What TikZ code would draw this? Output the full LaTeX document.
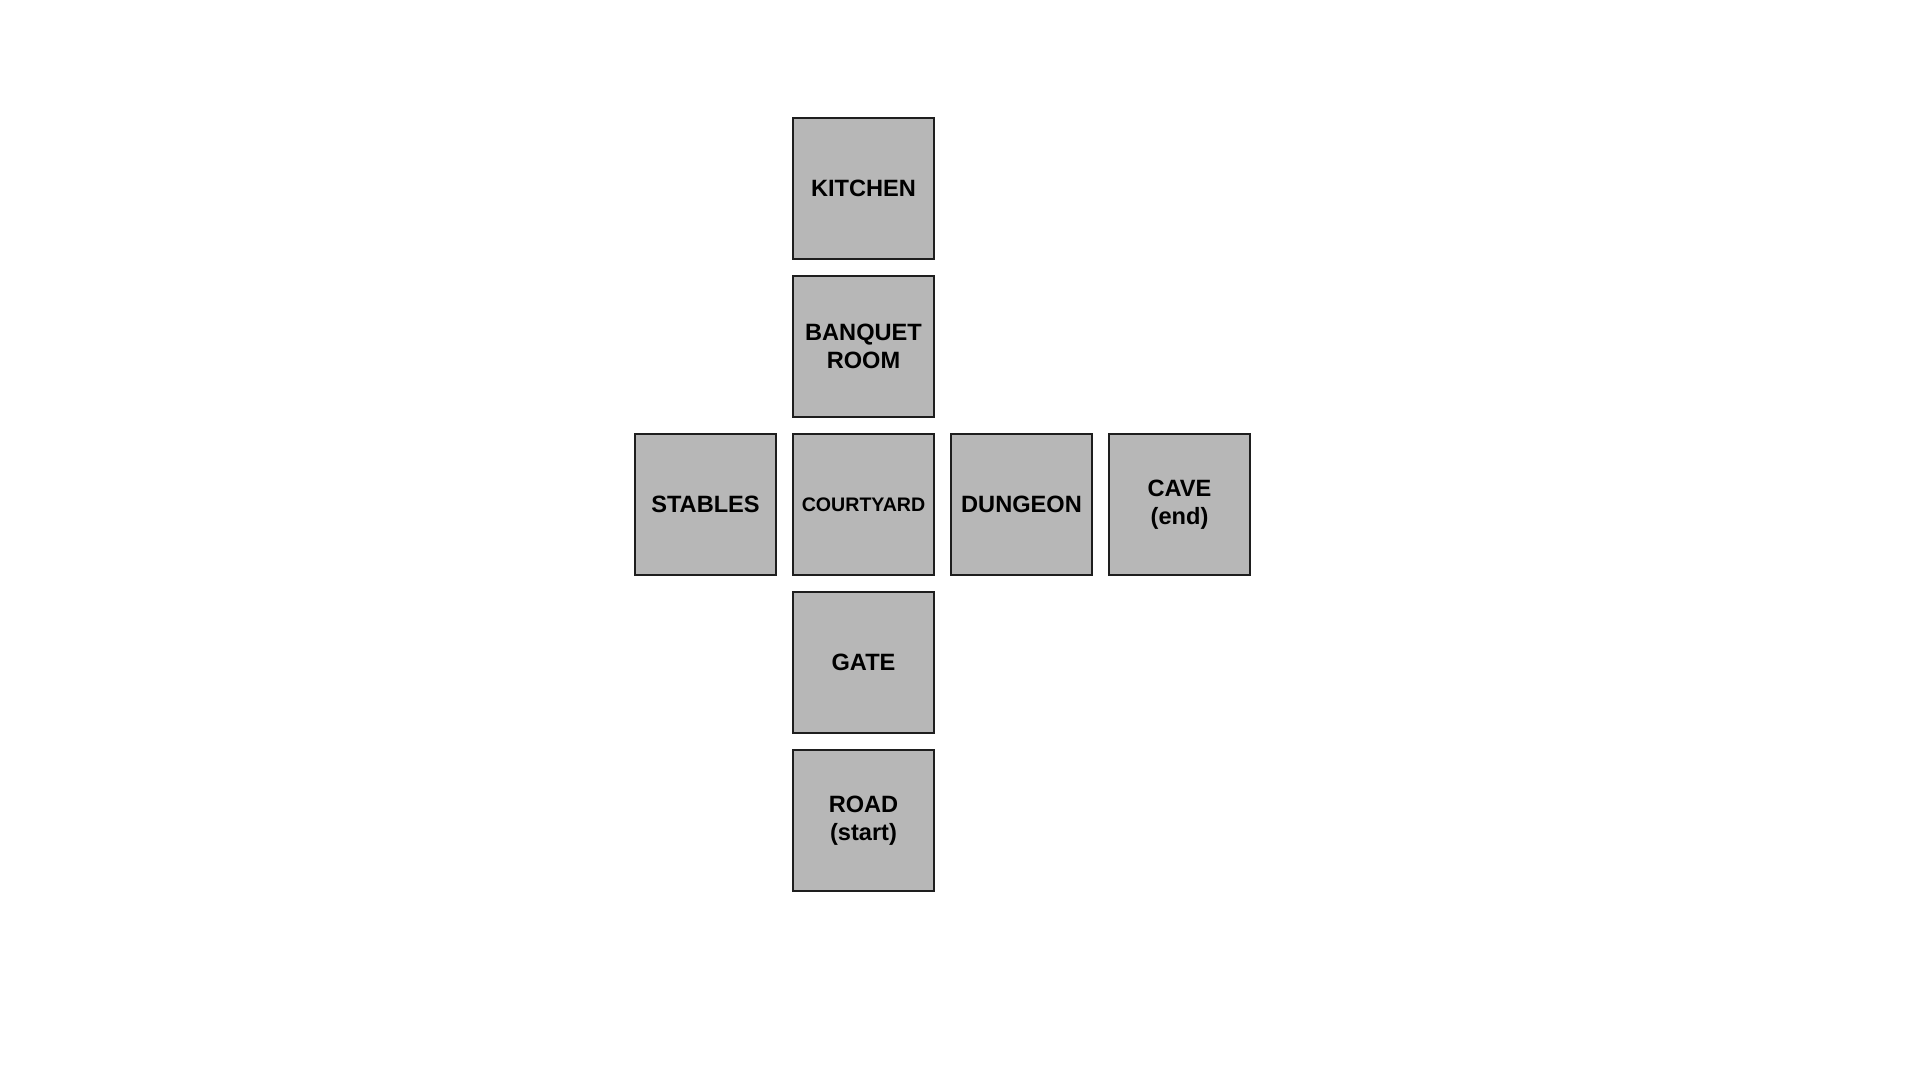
\documentclass[tikz,border=0pt]{standalone}
\usepackage{fontspec}
\setmainfont{Liberation Sans}
\usepackage{xcolor}
\usetikzlibrary{positioning}

\definecolor{roomgray}{HTML}{B7B7B7}
\definecolor{roomline}{HTML}{1E1E1E}

\begin{document}
\begin{tikzpicture}[node distance=7.5pt and 7.5pt]
    \tikzset{
        room/.style={rectangle, draw=roomline, fill=roomgray, line width=1.2pt, minimum width=70.3pt, minimum height=70.3pt, inner sep=0pt, align=center, font=\fontsize{11.8}{14}\selectfont\bfseries},
        smallroom/.style={room, font=\fontsize{9.8}{12}\selectfont\bfseries}
    }
    \useasboundingbox (0,0) rectangle (960pt,-540pt);

    \node (Courtyard) [smallroom] at (431.75pt,-252.25pt) {COURTYARD};
    \node (Banquet) [room, above=of Courtyard] {BANQUET\\ROOM};
    \node (Kitchen) [room, above=of Banquet] {KITCHEN};
    \node (Stables) [room, left=of Courtyard] {STABLES};
    \node (Dungeon) [room, right=of Courtyard] {DUNGEON};
    \node (Cave) [room, right=of Dungeon] {CAVE\\(end)};
    \node (Gate) [room, below=of Courtyard] {GATE};
    \node (Road) [room, below=of Gate] {ROAD\\(start)};

\end{tikzpicture}
\end{document}
